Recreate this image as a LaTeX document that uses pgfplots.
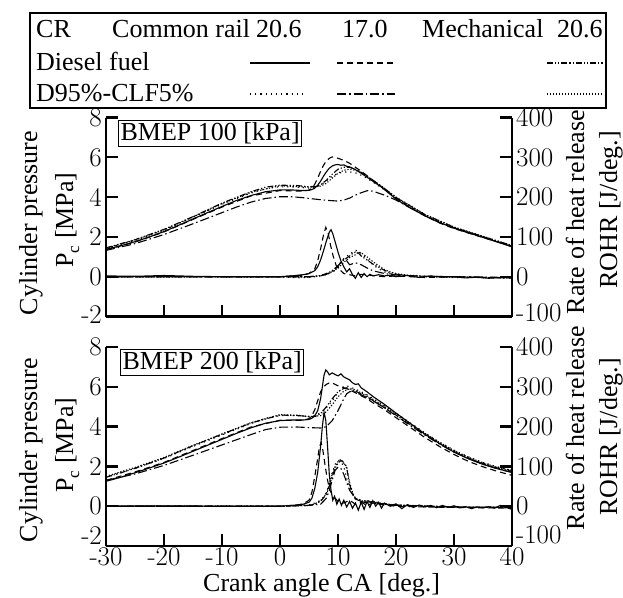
\documentclass[border=0pt]{standalone}
\usepackage{fontspec}
\setmainfont{Liberation Serif}
\newfontfamily\lmr{Latin Modern Roman}
\usepackage{pgfplots}
\pgfplotsset{compat=1.18}

% line styles of the six runs
\tikzset{
  s1/.style={black, line width=1.1bp, solid},
  s2/.style={black, line width=1.1bp, dash pattern=on 6bp off 4bp},
  s3/.style={black, line width=1.1bp, dash pattern=on 6bp off 2bp on 1.2bp off 2bp on 1.2bp off 2bp},
  s4/.style={black, line width=1.1bp, dash pattern=on 1.2bp off 4bp},
  s5/.style={black, line width=1.1bp, dash pattern=on 9bp off 3bp on 1.5bp off 3bp},
  s6/.style={black, line width=1.1bp, dash pattern=on 1.2bp off 1.8bp},
}
\newcommand{\up}[2]{\raisebox{#1}[\height][\depth]{#2}}
\pgfplotsset{
  panel/.style={
    scale only axis, width=406bp, height=199bp,
    xmin=-30, xmax=40,
    tick align=inside, major tick length=12bp,
    tick style={line width=2.3bp, black},
    axis line style={line width=2.3bp},
    tick label style={font=\lmr\fontsize{27bp}{27bp}\selectfont},
  },
  pside/.style={panel,
    axis x line*=bottom, axis y line*=left,
    ymin=-2, ymax=8, ytick={-2,0,2,4,6,8},
    yticklabels={\up{2bp}{-2},0,2,4,6,8},
    yticklabel style={inner sep=1bp, xshift=-3bp},
  },
  rside/.style={panel,
    axis x line=none, axis y line*=right,
    ymin=-100, ymax=400, ytick={-100,0,100,200,300,400},
    yticklabels={\up{4bp}{-100},0,100,200,300,400},
    yticklabel style={inner sep=1bp, xshift=3bp},
  },
}

\begin{document}
\begin{tikzpicture}[font=\fontsize{26bp}{30bp}\selectfont]
\useasboundingbox (0bp,0bp) rectangle (623bp,-598bp);

% ---- legend table ----
\draw[line width=1.2bp] (30bp,-13bp) rectangle (606bp,-108bp);
\node[anchor=base west, inner sep=0] at (36bp,-37bp) {CR};
\node[anchor=base west, inner sep=0] at (112bp,-37bp) {Common rail};
\node[anchor=base west, inner sep=0] at (256bp,-37bp) {20.6};
\node[anchor=base west, inner sep=0] at (342bp,-37bp) {17.0};
\node[anchor=base west, inner sep=0] at (422bp,-37bp) {Mechanical};
\node[anchor=base west, inner sep=0] at (557bp,-37bp) {20.6};
\node[anchor=base west, inner sep=0] at (36bp,-70bp) {Diesel fuel};
\node[anchor=base west, inner sep=0] at (36bp,-101bp) {D95\%-CLF5\%};
\draw[s1] (250bp,-63bp) -- (310bp,-63bp);
\draw[s2] (337bp,-63bp) -- (395bp,-63bp);
\draw[s3] (547bp,-63bp) -- (603bp,-63bp);
\draw[s4] (250bp,-94bp) -- (305bp,-94bp);
\draw[s5] (337bp,-94bp) -- (395bp,-94bp);
\draw[s6] (547bp,-94bp) -- (603bp,-94bp);

% ---- BMEP 100: cylinder pressure ----
\begin{axis}[pside, at={(106bp,-316.5bp)}, anchor=south west,
  xtick={-20,-10,...,30}, xticklabels={}]
\addplot[s1] coordinates {(-30,1.38)(-27.5,1.55)(-25,1.76)(-22.5,2.0)(-20,2.27)(-17.5,2.58)(-15,2.9)(-12.5,3.22)(-10,3.53)(-7.5,3.83)(-5,4.08)(-2.5,4.27)(0,4.36)(2,4.36)(4,4.33)(5,4.34)(5.5,4.38)(6,4.45)(6.5,4.6)(7,4.8)(7.5,5.05)(8,5.27)(8.5,5.45)(9,5.56)(9.5,5.62)(10,5.64)(10.5,5.6)(11,5.62)(11.5,5.55)(12,5.52)(12.5,5.45)(13,5.38)(14,5.2)(15,5.0)(16,4.8)(17.5,4.5)(20,3.9)(22.5,3.45)(25,3.06)(27.5,2.72)(30,2.44)(32.5,2.2)(35,1.98)(37.5,1.74)(40,1.5)};
\addplot[s2] coordinates {(-30,1.36)(-25,1.74)(-20,2.25)(-15,2.88)(-10,3.5)(-5,4.06)(0,4.33)(4,4.3)(5,4.35)(5.5,4.45)(6,4.65)(6.5,4.95)(7,5.3)(7.5,5.6)(8,5.82)(8.5,5.95)(9,6.02)(9.5,6.0)(10,5.95)(11,5.85)(12,5.7)(13,5.5)(14,5.3)(15,5.08)(16,4.85)(17.5,4.52)(20,3.95)(22.5,3.47)(25,3.06)(27.5,2.7)(30,2.42)(35,1.97)(40,1.52)};
\addplot[s3] coordinates {(-30,1.45)(-25,1.86)(-20,2.38)(-15,3.02)(-10,3.7)(-5,4.27)(-2.5,4.5)(0,4.6)(3,4.58)(5,4.52)(6,4.52)(7,4.62)(8,4.85)(9,5.15)(10,5.4)(11,5.5)(12,5.5)(13,5.4)(14,5.25)(15,5.05)(17.5,4.55)(20,3.98)(25,3.12)(30,2.48)(35,2.02)(40,1.56)};
\addplot[s4] coordinates {(-30,1.42)(-25,1.82)(-20,2.34)(-15,2.98)(-10,3.64)(-5,4.2)(-2.5,4.42)(0,4.52)(3,4.5)(5,4.45)(6,4.48)(7,4.6)(8,4.82)(9,5.05)(10,5.2)(11,5.26)(12,5.27)(13,5.22)(14,5.1)(15,4.95)(17.5,4.47)(20,3.95)(25,3.1)(30,2.46)(35,2.0)(40,1.54)};
\addplot[s5] coordinates {(-30,1.32)(-25,1.66)(-20,2.12)(-15,2.66)(-10,3.22)(-7.5,3.5)(-5,3.75)(-2.5,3.93)(0,4.02)(2,4.02)(4,3.97)(6,3.9)(8,3.84)(10,3.8)(11,3.85)(12,3.95)(13,4.1)(14,4.22)(15,4.32)(16,4.3)(17,4.2)(18,4.1)(19,3.98)(20,3.85)(22.5,3.45)(25,3.06)(27.5,2.73)(30,2.45)(35,1.98)(40,1.53)};
\addplot[s6] coordinates {(-30,1.43)(-25,1.84)(-20,2.36)(-15,3.0)(-10,3.67)(-5,4.24)(0,4.57)(5,4.5)(7,4.55)(8,4.7)(9,4.95)(10,5.2)(11,5.35)(12,5.4)(13,5.35)(14,5.22)(15,5.05)(17.5,4.55)(20,4.0)(25,3.13)(30,2.5)(35,2.03)(40,1.57)};
\node[draw, line width=0.8bp, inner sep=2bp, anchor=north west] at (axis description cs:0.03,0.985) {BMEP 100 [kPa]};
\end{axis}

% ---- BMEP 100: rate of heat release ----
\begin{axis}[rside, at={(106bp,-316.5bp)}, anchor=south west]
\addplot[s1] coordinates {(-30,2)(-25,1)(-20,3)(-15,1)(-10,0)(-5,0)(0,0)(2,2)(4,5)(5,8)(6,15)(6.5,25)(7,42)(7.5,65)(8,90)(8.5,112)(8.8,118)(9.1,108)(9.5,88)(10,62)(10.5,40)(11,25)(11.5,12)(12,20)(12.5,5)(13,-4)(13.5,10)(14,-2)(14.5,8)(15,0)(15.5,6)(16,2)(17,5)(18,2)(19,4)(20,0)(22,3)(24,-2)(26,2)(28,-1)(30,0)(32,-3)(34,-1)(36,-4)(38,-2)(40,-3)};
\addplot[s2] coordinates {(-30,0)(0,0)(4,4)(5,8)(6,20)(6.5,40)(7,70)(7.5,105)(7.9,124)(8.3,110)(8.7,80)(9.2,50)(9.7,28)(10.5,15)(11,8)(12,5)(13,2)(14,6)(16,3)(18,0)(20,2)(25,-2)(30,0)(40,-3)};
\addplot[s3] coordinates {(-30,0)(0,0)(5,0)(7,3)(8,8)(9,15)(10,28)(11,42)(12,52)(12.5,58)(13,62)(13.5,60)(14,52)(15,42)(16,32)(17,24)(18,16)(19,10)(20,6)(22,3)(25,1)(30,0)(35,-2)(40,-3)};
\addplot[s4] coordinates {(-30,0)(0,0)(3,-3)(5,-2)(7,2)(8,6)(9,12)(10,20)(10.5,35)(11,45)(11.5,52)(12,55)(12.5,62)(13,66)(13.5,65)(14,58)(15,45)(16,30)(17,20)(18,12)(19,8)(20,5)(22,3)(25,0)(30,-2)(40,-3)};
\addplot[s5] coordinates {(-30,0)(0,0)(5,0)(7,2)(8,6)(9,14)(10,25)(10.5,38)(11,45)(11.5,40)(12,30)(13,35)(14,30)(15,22)(16,15)(18,8)(20,4)(25,1)(30,0)(40,-2)};
\addplot[s6] coordinates {(-30,0)(0,0)(5,-1)(8,5)(9,12)(10,22)(11,36)(12,48)(13,55)(13.5,62)(14,60)(15,50)(16,38)(17,28)(18,18)(19,12)(20,8)(22,4)(25,1)(30,-1)(40,-3)};
\end{axis}

% ---- BMEP 200: cylinder pressure ----
\begin{axis}[pside, at={(106bp,-546bp)}, anchor=south west,
  yticklabels={\up{10bp}{-2},0,2,4,6,8},
  xtick={-30,-20,...,40}, xticklabels={-30,-20,-10,0,10,20,30,40},
  xticklabel style={inner sep=1bp}]
\addplot[s1] coordinates {(-30,1.25)(-27.5,1.45)(-25,1.68)(-22.5,1.92)(-20,2.17)(-17.5,2.46)(-15,2.76)(-12.5,3.06)(-10,3.36)(-7.5,3.66)(-5,3.94)(-2.5,4.17)(0,4.3)(2,4.33)(4,4.33)(5,4.36)(5.5,4.42)(6,4.55)(6.5,4.8)(7,5.4)(7.3,6.0)(7.6,6.6)(7.9,6.85)(8.2,6.75)(8.5,6.6)(9,6.7)(9.5,6.62)(10,6.55)(10.5,6.65)(11,6.5)(11.5,6.42)(12,6.35)(12.5,6.2)(13,6.12)(13.5,6.15)(14,5.95)(14.5,5.85)(15,5.75)(16,5.52)(17,5.32)(18,5.12)(20,4.68)(22.5,4.15)(25,3.62)(27.5,3.15)(30,2.72)(32.5,2.38)(35,2.1)(37.5,1.88)(40,1.7)};
\addplot[s2] coordinates {(-30,1.3)(-25,1.72)(-20,2.2)(-15,2.8)(-10,3.4)(-5,3.98)(0,4.32)(4,4.32)(5,4.4)(5.5,4.55)(6,4.85)(6.5,5.3)(7,5.75)(7.5,6.0)(8,6.12)(8.5,6.2)(9,6.2)(9.5,6.12)(10,6.05)(11,5.95)(12,5.85)(13,5.7)(14,5.55)(15,5.4)(16,5.2)(18,4.85)(20,4.45)(22.5,3.95)(25,3.45)(27.5,3.0)(30,2.6)(32.5,2.25)(35,1.98)(37.5,1.75)(40,1.55)};
\addplot[s3] coordinates {(-30,1.45)(-25,1.9)(-20,2.42)(-15,3.04)(-10,3.62)(-5,4.18)(0,4.58)(3,4.56)(5,4.5)(6,4.5)(7,4.65)(8,5.0)(9,5.4)(10,5.75)(11,5.92)(11.5,5.95)(12,5.9)(13,5.78)(14,5.65)(15,5.5)(16,5.32)(18,4.95)(20,4.58)(22.5,4.08)(25,3.6)(27.5,3.15)(30,2.75)(32.5,2.42)(35,2.15)(37.5,1.92)(40,1.75)};
\addplot[s4] coordinates {(-30,1.45)(-25,1.9)(-20,2.4)(-15,3.0)(-10,3.58)(-5,4.15)(-2.5,4.42)(0,4.55)(3,4.55)(5,4.52)(6,4.55)(7,4.7)(8,4.95)(9,5.3)(10,5.7)(10.5,5.9)(11,6.02)(11.5,6.05)(12,6.0)(13,5.88)(14,5.75)(15,5.6)(16,5.42)(18,5.05)(20,4.68)(22.5,4.18)(25,3.68)(27.5,3.22)(30,2.82)(32.5,2.48)(35,2.2)(37.5,1.98)(40,1.8)};
\addplot[s5] coordinates {(-30,1.3)(-25,1.62)(-20,2.05)(-15,2.56)(-10,3.08)(-5,3.6)(-2.5,3.85)(0,3.97)(3,3.98)(5,3.95)(7,3.93)(8,4.0)(9,4.3)(10,4.8)(10.5,5.1)(11,5.4)(11.5,5.65)(12,5.75)(12.5,5.78)(13,5.72)(14,5.6)(15,5.45)(16,5.3)(18,4.95)(20,4.55)(22.5,4.05)(25,3.57)(27.5,3.12)(30,2.72)(32.5,2.4)(35,2.12)(37.5,1.88)(40,1.7)};
\addplot[s6] coordinates {(-30,1.5)(-25,1.95)(-20,2.45)(-15,3.06)(-10,3.63)(-5,4.2)(0,4.6)(3,4.57)(5,4.5)(7,4.55)(8,4.75)(9,5.1)(10,5.5)(11,5.78)(12,5.9)(12.5,5.9)(13,5.83)(14,5.7)(15,5.55)(16,5.38)(18,5.02)(20,4.65)(22.5,4.15)(25,3.66)(27.5,3.2)(30,2.8)(32.5,2.46)(35,2.18)(37.5,1.95)(40,1.8)};
\node[draw, line width=0.8bp, inner sep=2bp, anchor=north west] at (axis description cs:0.035,0.99) {BMEP 200 [kPa]};
\end{axis}

% ---- BMEP 200: rate of heat release ----
\begin{axis}[rside, at={(106bp,-546bp)}, anchor=south west,
  yticklabels={\up{11bp}{-100},0,100,200,300,400}]
\addplot[s1] coordinates {(-30,0)(-20,1)(-10,0)(0,0)(2,2)(4,5)(5,10)(5.5,20)(6,45)(6.5,85)(7,150)(7.3,200)(7.6,236)(7.9,215)(8.2,150)(8.5,80)(8.8,40)(9.1,15)(9.4,25)(9.8,5)(10.2,18)(10.6,2)(11,15)(11.5,-2)(12,12)(12.5,-5)(13,8)(13.5,-10)(14,10)(14.5,-8)(15,12)(15.5,-3)(16,14)(16.5,0)(17,10)(17.5,-5)(18,8)(19,0)(20,6)(21,-6)(22,4)(23,-3)(24,3)(25,-2)(26,2)(27,-4)(28,2)(29,-3)(30,1)(31,-4)(32,-1)(33,-6)(34,-2)(35,-4)(36,-1)(37,-5)(38,2)(39,-3)(40,-8)};
\addplot[s2] coordinates {(-30,0)(0,0)(3,3)(4,6)(5,15)(5.5,35)(6,75)(6.5,120)(6.8,150)(7.1,160)(7.4,140)(7.8,100)(8.2,65)(8.6,40)(9,30)(9.5,20)(10,12)(11,8)(12,15)(13,5)(14,10)(15,2)(16,8)(18,3)(20,0)(25,-2)(30,-3)(40,-5)};
\addplot[s3] coordinates {(-30,0)(0,0)(5,2)(6,5)(7,12)(8,30)(8.5,50)(9,75)(9.5,95)(10,108)(10.5,115)(11,110)(11.5,95)(12,55)(12.5,30)(13,18)(14,12)(15,15)(16,8)(18,6)(20,3)(25,0)(30,-2)(40,-3)};
\addplot[s4] coordinates {(-30,0)(0,0)(5,3)(6,8)(7,15)(7.5,22)(8,35)(8.5,55)(9,85)(9.5,105)(10,115)(10.5,112)(11,100)(11.5,70)(12,45)(12.5,30)(13,20)(14,15)(15,12)(16,8)(18,5)(20,3)(25,0)(30,-2)(40,-4)};
\addplot[s5] coordinates {(-30,0)(0,0)(5,2)(7,5)(8,20)(8.5,40)(9,65)(9.5,90)(10,98)(10.5,95)(11,80)(11.5,60)(12,40)(12.5,30)(13,20)(14,12)(15,8)(16,10)(18,5)(20,2)(25,0)(30,-2)(40,-3)};
\addplot[s6] coordinates {(-30,0)(0,0)(5,2)(6,6)(7,14)(8,32)(8.5,55)(9,80)(9.5,100)(10,112)(10.5,118)(11,108)(11.5,100)(12,60)(12.5,35)(13,20)(14,14)(15,10)(16,12)(18,6)(20,3)(25,1)(30,-2)(40,-4)};
\end{axis}

% ---- axis titles ----
\node[rotate=90, anchor=base, inner sep=0] at (37bp,-223bp) {Cylinder pressure};
\node[rotate=90, anchor=base, inner sep=0] at (73bp,-220bp) {P\raisebox{-6bp}{\fontsize{17bp}{17bp}\selectfont c} [MPa]};
\node[rotate=90, anchor=base, inner sep=0] at (37bp,-450bp) {Cylinder pressure};
\node[rotate=90, anchor=base, inner sep=0] at (73bp,-445bp) {P\raisebox{-6bp}{\fontsize{17bp}{17bp}\selectfont c} [MPa]};
\node[rotate=90, anchor=base, inner sep=0] at (584bp,-212bp) {Rate of heat release};
\node[rotate=90, anchor=base, inner sep=0] at (617bp,-210bp) {ROHR [J/deg.]};
\node[rotate=90, anchor=base, inner sep=0] at (584bp,-428bp) {Rate of heat release};
\node[rotate=90, anchor=base, inner sep=0] at (617bp,-437bp) {ROHR [J/deg.]};
\node[anchor=base west, inner sep=0] at (203bp,-591bp) {Crank angle CA [deg.]};
\end{tikzpicture}
\end{document}
